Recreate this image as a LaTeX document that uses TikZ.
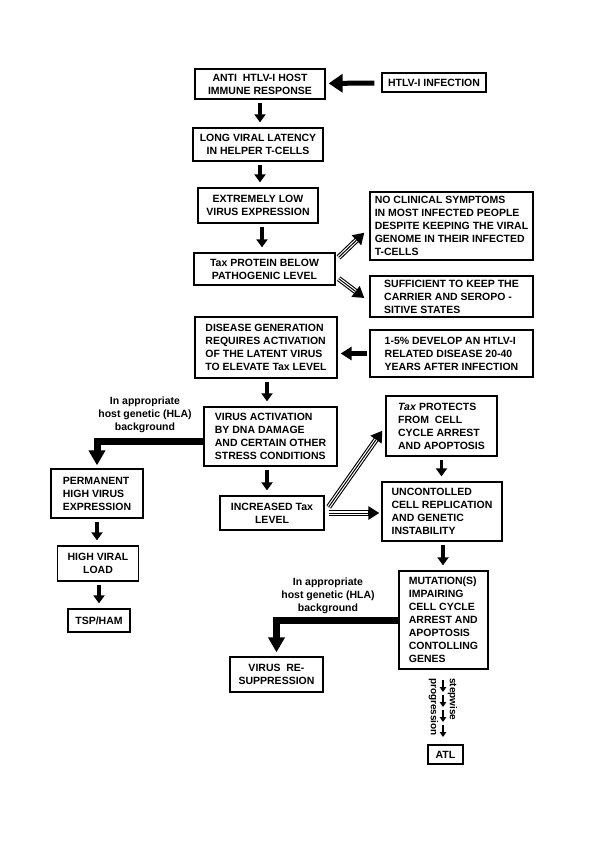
\documentclass[tikz,border=0pt]{standalone}
\usepackage{fontspec}
\setmainfont{Liberation Sans}
\usetikzlibrary{arrows.meta}
\newcommand{\boxfont}{\fontsize{10.5}{13}\selectfont\bfseries}

\begin{document}
\begin{tikzpicture}[x=1pt,y=-1pt,
    box/.style={draw, line width=1.3pt, inner sep=3pt, font=\boxfont, align=center},
    lbox/.style={box, align=left},
    downarrow/.style={line width=3.5pt, shorten <=3pt, shorten >=5pt, -{Triangle[length=8pt,width=11pt]}},
    fatarrow/.style={line width=5pt, -{Triangle[length=14pt,width=18pt]}},
    bentarrow/.style={line width=7pt, -{Triangle[length=15pt,width=16pt]}},
    dblarrow/.style={line width=5.5pt, -{Triangle[length=11pt,width=13pt]},
        postaction={draw=white, line width=3.3pt, -, shorten >=11pt},
        postaction={draw=black, line width=1pt, -, shorten >=11pt}},
    stepdown/.style={line width=1.6pt, -{Triangle[length=5pt,width=6.5pt]}}]
\useasboundingbox (0,0) rectangle (600,849);
        \node (immune) at (260,84) [box, minimum width=130, minimum height=30] {ANTI~~HTLV-I HOST\\IMMUNE RESPONSE};
        \node (infection) at (434,82.5) [box, minimum width=104, minimum height=19, inner sep=1pt] {HTLV-I INFECTION};
        \node (latency) at (258,144.5) [box, minimum width=130, minimum height=33] {LONG VIRAL LATENCY\\IN HELPER T-CELLS};
        \node (lowexpr) at (258,205.5) [box, minimum width=120, minimum height=35] {EXTREMELY LOW\\VIRUS EXPRESSION};
        \node (taxlow) at (264.5,269) [box, minimum width=141, minimum height=32] {Tax PROTEIN BELOW\\PATHOGENIC LEVEL};
        \node (nosympt) at (451.5,226) [lbox, minimum width=163, minimum height=68] {NO CLINICAL SYMPTOMS\\IN MOST INFECTED PEOPLE\\DESPITE KEEPING THE VIRAL\\GENOME IN THEIR INFECTED\\T-CELLS};
        \node (carrier) at (451.5,296.5) [lbox, minimum width=163, minimum height=41] {SUFFICIENT TO KEEP THE\\CARRIER AND SEROPO -\\SITIVE STATES};
        \node (disease) at (266,347.5) [lbox, minimum width=142, minimum height=61] {DISEASE GENERATION\\REQUIRES ACTIVATION\\OF THE LATENT VIRUS\\TO ELEVATE Tax LEVEL};
        \node (onefive) at (451.5,353.5) [lbox, minimum width=163, minimum height=47] {1-5\% DEVELOP AN HTLV-I\\RELATED DISEASE 20-40\\YEARS AFTER INFECTION};
        \node (activation) at (270.5,436.5) [lbox, minimum width=133, minimum height=59] {VIRUS ACTIVATION\\BY DNA DAMAGE\\AND CERTAIN OTHER\\STRESS CONDITIONS};
        \node (taxup) at (272,513) [box, minimum width=104, minimum height=34] {INCREASED Tax\\LEVEL};
        \node (protects) at (441.5,426) [lbox, minimum width=111, minimum height=60] {\textit{Tax} PROTECTS\\FROM~~CELL\\CYCLE ARREST\\AND APOPTOSIS};
        \node (replication) at (442,511.5) [lbox, minimum width=120, minimum height=59] {UNCONTOLLED\\CELL REPLICATION\\AND GENETIC\\INSTABILITY};
        \node (mutation) at (443.5,620) [lbox, minimum width=89, minimum height=98] {MUTATION(S)\\IMPAIRING\\CELL CYCLE\\ARREST AND\\APOPTOSIS\\CONTOLLING\\GENES};
        \node (atl) at (445.5,754.5) [box, minimum width=35, minimum height=19, inner sep=1pt] {ATL};
        \node (permanent) at (97,493.5) [lbox, minimum width=92, minimum height=49] {PERMANENT\\HIGH VIRUS\\EXPRESSION};
        \node (viralload) at (98,563.5) [box, minimum width=81, minimum height=35] {HIGH VIRAL\\LOAD};
        \node (tspham) at (99,620.5) [box, minimum width=62, minimum height=23] {TSP/HAM};
        \node (resupp) at (276.5,674.5) [box, minimum width=93, minimum height=35] {VIRUS~~RE-\\SUPPRESSION};

        \node (hlaleft) at (145,415) [font=\boxfont, align=center] {In appropriate\\host genetic (HLA)\\background};
        \node (hlaright) at (328,596) [font=\boxfont, align=center] {In appropriate\\host genetic (HLA)\\background};
        \node (stepwise) at (443,707) [rotate=-90, font=\fontsize{10}{12}\selectfont\bfseries, align=left] {stepwise\\[7pt]progression};

        \draw[fatarrow, shorten <=7pt, shorten >=3pt] (infection) -- (immune);
        \draw[downarrow] (immune) -- (immune |- latency.north);
        \draw[downarrow] (immune |- latency.south) -- (immune |- lowexpr.north);
        \draw[downarrow] (262,0 |- lowexpr.south) -- (262,0 |- taxlow.north);
        \draw[dblarrow] ([shift={(3,5)}]taxlow.north east) -- ([shift={(-5,-28)}]nosympt.south west);
        \draw[dblarrow] ([shift={(3,-7)}]taxlow.south east) -- ([shift={(-5,1.5)}]carrier.west);
        \draw[line width=4.5pt, shorten <=2pt, shorten >=3pt, -{Triangle[length=11pt,width=13pt]}] (onefive.west) -- (onefive.west -| disease.east);
        \draw[downarrow] (267,0 |- disease.south) -- (267,0 |- activation.north);
        \draw[downarrow] (267,0 |- activation.south) -- (267,0 |- taxup.north);
        \draw[bentarrow, shorten >=3pt] ([shift={(0,4.5)}]activation.west) -| (permanent.north);
        \draw[downarrow] (permanent) -- (permanent |- viralload.north);
        \draw[downarrow] (tspham |- viralload.south) -- (tspham.north);
        \draw[dblarrow] ([shift={(4,-6)}]taxup.east) -- ([shift={(-3,-26)}]protects.south west);
        \draw[dblarrow] ([xshift=4pt]taxup.east) -- ([xshift=-2pt]taxup.east -| replication.west);
        \draw[downarrow] (protects) -- (protects |- replication.north);
        \draw[downarrow] (443,0 |- replication.south) -- (443,0 |- mutation.north);
        \draw[bentarrow, shorten >=4pt] (mutation.west) -| (resupp.north);
        \foreach \i in {0,...,3}{
            \coordinate (st\i) at (443,680+15*\i);
            \coordinate (en\i) at (443,692+15*\i);
            \draw[stepdown] (st\i) -- (en\i);
        }
\end{tikzpicture}
\end{document}
